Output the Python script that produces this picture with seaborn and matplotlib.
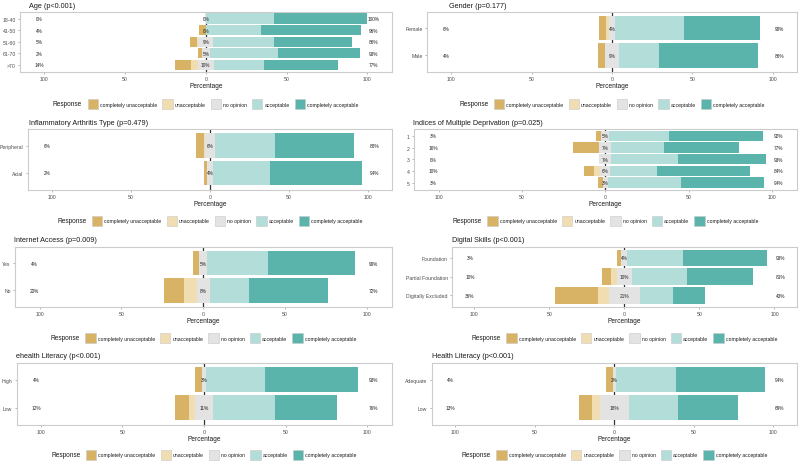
import matplotlib
matplotlib.use("Agg")
import matplotlib.pyplot as plt
from matplotlib.patches import Patch
from matplotlib.offsetbox import HPacker
import numpy as np
import pandas as pd
import seaborn as sns

# Likert scale, worst to best
responses = ['completely unacceptable', 'unacceptable', 'no opinion',
             'acceptable', 'completely acceptable']
palette = ['#D8B365', '#F0DDB2', '#E3E3E3', '#B3DDD8', '#5AB4AC']

# percentages per group: completely unacc, unacc, no opinion, acc, completely acc
age_groups = ['18-40', '41-50', '51-60', '61-70', '>70']
age_cu = [0, 4, 4, 2, 10]
age_u = [0, 0, 1, 0, 4]
age_n = [0, 0, 9, 5, 10]
age_a = [42, 34, 38, 42, 31]
age_ca = [58, 62, 48, 51, 46]

gender_groups = ['Female', 'Male']
gender_cu = [4, 4]
gender_u = [2, 0]
gender_n = [4, 9]
gender_a = [43, 25]
gender_ca = [47, 61]

ia_groups = ['Peripheral', 'Axial']
ia_cu = [5, 2]
ia_u = [1, 0]
ia_n = [6, 4]
ia_a = [38, 36]
ia_ca = [50, 58]

imd_groups = ['1', '2', '3', '4', '5']
imd_cu = [3, 16, 0, 6, 3]
imd_u = [0, 0, 0, 4, 0]
imd_n = [5, 7, 7, 6, 3]
imd_a = [36, 32, 40, 28, 44]
imd_ca = [56, 45, 53, 56, 50]

internet_groups = ['Yes', 'No']
internet_cu = [4, 12]
internet_u = [0, 8]
internet_n = [5, 8]
internet_a = [37, 24]
internet_ca = [53, 48]

digital_groups = ['Foundation', 'Partial Foundation', 'Digitally Excluded']
digital_cu = [3, 6, 29]
digital_u = [0, 4, 7]
digital_n = [4, 10, 21]
digital_a = [37, 37, 22]
digital_ca = [56, 44, 21]

ehealth_groups = ['High', 'Low']
ehealth_cu = [4, 8]
ehealth_u = [0, 4]
ehealth_n = [3, 11]
ehealth_a = [36, 38]
ehealth_ca = [57, 38]

health_groups = ['Adequate', 'Low']
health_cu = [4, 8]
health_u = [0, 5]
health_n = [2, 18]
health_a = [38, 31]
health_ca = [56, 38]

panels = [
    ('Age (p<0.001)', age_groups, [age_cu, age_u, age_n, age_a, age_ca]),
    ('Gender (p=0.177)', gender_groups, [gender_cu, gender_u, gender_n, gender_a, gender_ca]),
    ('Inflammatory Arthritis Type (p=0.479)', ia_groups, [ia_cu, ia_u, ia_n, ia_a, ia_ca]),
    ('Indices of Multiple Deprivation (p=0.025)', imd_groups, [imd_cu, imd_u, imd_n, imd_a, imd_ca]),
    ('Internet Access (p=0.009)', internet_groups,
     [internet_cu, internet_u, internet_n, internet_a, internet_ca]),
    ('Digital Skills (p<0.001)', digital_groups,
     [digital_cu, digital_u, digital_n, digital_a, digital_ca]),
    ('ehealth Literacy (p<0.001)', ehealth_groups,
     [ehealth_cu, ehealth_u, ehealth_n, ehealth_a, ehealth_ca]),
    ('Health Literacy (p<0.001)', health_groups,
     [health_cu, health_u, health_n, health_a, health_ca]),
]

# layout in pixels: panel box (left, top, right, bottom), title x, title y, legend y
W, H = 800, 464
layout = [
    ((20, 12.7, 391.5, 72.7), 29, 6, 105),
    ((427, 12.7, 797, 72.7), 449, 6, 105),
    ((28, 130, 392, 190.5), 29, 123.3, 221.7),
    ((413.6, 130, 797, 190.5), 413, 123.3, 221.7),
    ((15, 247.7, 391.5, 307.7), 14, 240, 339),
    ((451.8, 247.7, 797, 307.7), 452, 240, 339),
    ((16.5, 364, 391.5, 425.5), 16, 356.7, 455.7),
    ((431.5, 364, 797, 425.5), 432, 356.7, 455.7),
]

sns.set_theme(style="white")
plt.rcParams['font.family'] = ['Liberation Sans', 'DejaVu Sans']

AXIS_GREY = '#4D4D4D'


def response_legend(ax, fig, x_px, y_px):
    handles = [Patch(facecolor=c, edgecolor='#C8C8C8', linewidth=0.4) for c in palette]
    leg = ax.legend(handles, responses, loc='center',
                    bbox_to_anchor=(x_px / W, 1 - y_px / H), bbox_transform=fig.transFigure,
                    ncol=5, frameon=False, title='Response', title_fontsize=4.7,
                    fontsize=3.7, handlelength=2.0, handleheight=2.5,
                    handletextpad=0.4, columnspacing=1.0, borderpad=0, borderaxespad=0)
    # ggplot puts the legend title to the left of the keys
    title_box = leg._legend_title_box
    handle_box = leg._legend_handle_box
    leg._legend_box._children = [HPacker(pad=0, sep=4, align='center',
                                         children=[title_box, handle_box])]
    leg._legend_box.set_figure(fig)
    leg.get_title().set_color('#1A1A1A')
    for t in leg.get_texts():
        t.set_color('#1A1A1A')


def draw_panel(ax, cats, values):
    cu, u, n, a, ca = (np.array(v, dtype=float) for v in values)
    half = n / 2
    df = pd.DataFrame({
        'group': cats,
        'l_cu': -(half + u + cu), 'l_u': -(half + u), 'l_n': -half,
        'r_ca': half + a + ca, 'r_a': half + a, 'r_n': half,
    })
    # longest first, shorter segments drawn on top
    layers = [('l_cu', 0), ('l_u', 1), ('l_n', 2), ('r_ca', 4), ('r_a', 3), ('r_n', 2)]
    for col, k in layers:
        sns.barplot(data=df, x=col, y='group', order=cats, orient='h',
                    color=palette[k], saturation=1, width=0.9, linewidth=0,
                    errorbar=None, ax=ax)
    ax.axvline(0, color='#333333', lw=0.9, zorder=0.5)

    low = cu + u
    high = a + ca
    for i in range(len(cats)):
        ax.text(-103, i, f'{low[i]:.0f}%', ha='center', va='center', fontsize=3.4, color='#222222')
        ax.text(0, i, f'{n[i]:.0f}%', ha='center', va='center', fontsize=3.4, color='#222222')
        ax.text(104, i, f'{high[i]:.0f}%', ha='center', va='center', fontsize=3.4, color='#222222')

    ax.set_xlim(-115, 115)
    ax.set_ylim(len(cats) - 0.4, -0.6)
    ax.set_xticks([-100, -50, 0, 50, 100])
    ax.set_xticklabels(['100', '50', '0', '50', '100'])
    ax.tick_params(axis='both', labelsize=3.7, labelcolor=AXIS_GREY, length=1.5,
                   width=0.5, color='#999999', pad=1.5, bottom=True, left=True)
    ax.set_ylabel('')
    ax.set_xlabel('Percentage', fontsize=4.7, labelpad=1, color='#1A1A1A')
    for sp in ax.spines.values():
        sp.set_color('#CCCCCC')
        sp.set_linewidth(0.8)


fig = plt.figure(figsize=(W / 100, H / 100), dpi=100)
fig.patch.set_facecolor('white')

for (title, cats, values), (box, tx, ty, ly) in zip(panels, layout):
    l, t, r, b = box
    ax = fig.add_axes([l / W, 1 - b / H, (r - l) / W, (b - t) / H])
    draw_panel(ax, cats, values)
    response_legend(ax, fig, (l + r) / 2, ly)
    fig.text(tx / W, 1 - ty / H, title, ha='left', va='center', fontsize=5.2, color='#1A1A1A')

fig.savefig('out.png', dpi=100, facecolor='white')
